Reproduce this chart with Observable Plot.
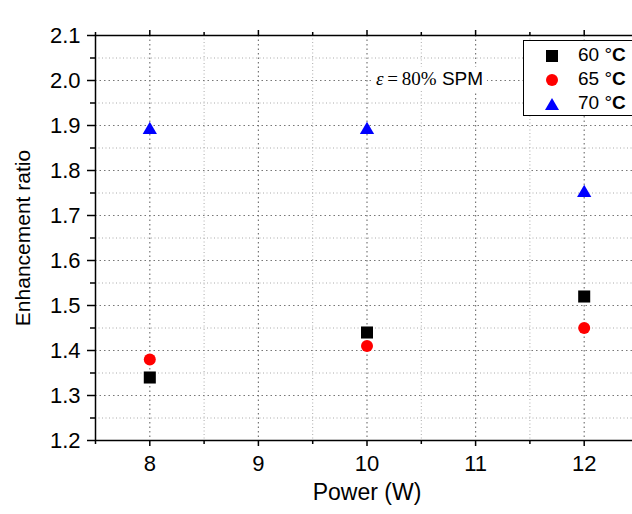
<!DOCTYPE html>
<html>
<head>
<meta charset="utf-8">
<script src="https://cdn.jsdelivr.net/npm/d3@7"></script>
<script src="https://cdn.jsdelivr.net/npm/@observablehq/plot@0.6"></script>
<style>
  html, body { margin: 0; padding: 0; background: #fff; overflow: hidden; }
  #wrap { position: relative; width: 632px; height: 514px; overflow: hidden; font-family: "Liberation Sans", Arial, sans-serif; }
  #wrap svg { max-width: none !important; display: block; }
  #legend { position: absolute; left: 523px; top: 40px; width: 130px; height: 76px; border: 1px solid #000; background: #fff; box-sizing: border-box; }
  .sym { position: absolute; }
  .lab { position: absolute; left: 54px; font-size: 19px; line-height: 24px; color: #000; white-space: nowrap; }
  #note { position: absolute; left: 372px; top: 67px; background: #fff; padding: 0 4px; font-size: 19px; line-height: 24px; white-space: nowrap; }
</style>
</head>
<body>
<div id="wrap"></div>
<script>
const powers = [8, 10, 12];
const series = ["60 °C", "65 °C", "70 °C"];
const ratio60 = [1.34, 1.44, 1.52];
const ratio65 = [1.38, 1.41, 1.45];
const ratio70 = [1.89, 1.89, 1.75];
const xTicks = [8, 9, 10, 11, 12];
const xMinor = [7.5, 8.5, 9.5, 10.5, 11.5, 12.5];
const yTicks = [1.2, 1.3, 1.4, 1.5, 1.6, 1.7, 1.8, 1.9, 2.0, 2.1];
const yMinor = [1.25, 1.35, 1.45, 1.55, 1.65, 1.75, 1.85, 1.95, 2.05];

const d60 = powers.map((p, i) => ({power: p, ratio: ratio60[i]}));
const d65 = powers.map((p, i) => ({power: p, ratio: ratio65[i]}));
const d70 = powers.map((p, i) => ({power: p, ratio: ratio70[i]}));

const font = "Liberation Sans, Arial, sans-serif";

const chart = Plot.plot({
  width: 640,
  height: 514,
  marginLeft: 95,
  marginRight: 2,
  marginTop: 35,
  marginBottom: 74,
  style: {fontFamily: font, fontSize: "22px", color: "#000", background: "#fff", overflow: "visible", maxWidth: "none"},
  x: {domain: [7.5, 12.5]},
  y: {domain: [1.2, 2.1]},
  marks: [
    Plot.gridX(xMinor, {stroke: "#aaa", strokeOpacity: 1, strokeDasharray: "1,2.5", strokeWidth: 1}),
    Plot.gridY(yMinor, {stroke: "#aaa", strokeOpacity: 1, strokeDasharray: "1,2.5", strokeWidth: 1}),
    Plot.gridX(xTicks, {stroke: "#777", strokeOpacity: 1, strokeDasharray: "1.5,3", strokeWidth: 1.2}),
    Plot.gridY(yTicks, {stroke: "#777", strokeOpacity: 1, strokeDasharray: "1.5,3", strokeWidth: 1.2}),
    Plot.axisX(xTicks, {anchor: "bottom", tickSize: 6, tickPadding: 9, fontSize: 22, label: null, strokeWidth: 1.5}),
    Plot.axisX(xMinor, {anchor: "bottom", tickSize: 4, tickFormat: () => "", label: null, strokeWidth: 1.5}),
    Plot.axisX(xTicks, {anchor: "top", tickSize: 6, tickFormat: () => "", label: null, strokeWidth: 1.5}),
    Plot.axisX(xMinor, {anchor: "top", tickSize: 4, tickFormat: () => "", label: null, strokeWidth: 1.5}),
    Plot.axisY(yTicks, {anchor: "left", tickSize: 8, tickPadding: 7, fontSize: 22, tickFormat: d3.format(".1f"), label: null, strokeWidth: 1.5}),
    Plot.axisY(yMinor, {anchor: "left", tickSize: 5, tickFormat: () => "", label: null, strokeWidth: 1.5}),
    Plot.frame({stroke: "#000", strokeWidth: 1.5}),
    Plot.dot(d70, {x: "power", y: "ratio", symbol: "triangle", r: 5.3, fill: "#0000ff", stroke: "none"}),
    Plot.dot(d65, {x: "power", y: "ratio", symbol: "circle", r: 6, fill: "#ff0000", stroke: "none"}),
    Plot.dot(d60, {x: "power", y: "ratio", symbol: "square", r: 6.8, fill: "#000000", stroke: "none"}),
    Plot.text(["Power (W)"], {frameAnchor: "bottom", dy: 52, fontSize: 23, fill: "#000", lineAnchor: "middle", textAnchor: "middle"}),
    Plot.text(["Enhancement ratio"], {frameAnchor: "left", dx: -72, rotate: -90, fontSize: 21, fill: "#000", lineAnchor: "middle", textAnchor: "middle"})
  ]
});

const wrap = document.getElementById("wrap");
wrap.appendChild(chart);

// annotation
const note = document.createElement("div");
note.id = "note";
note.innerHTML = '<span style="font-family:\'Liberation Serif\',\'Times New Roman\',serif"><i>ε</i>&thinsp;=&thinsp;80%</span> <span style="font-family:\'Liberation Sans\',Arial,sans-serif">SPM</span>';
wrap.appendChild(note);

// legend
const legend = document.createElement("div");
legend.id = "legend";
const syms = [
  '<svg class="sym" style="left:21px;top:8px" width="14" height="14"><rect x="1" y="1" width="12" height="12" fill="#000"/></svg>',
  '<svg class="sym" style="left:21px;top:32px" width="14" height="14"><circle cx="7" cy="7" r="6" fill="#ff0000"/></svg>',
  '<svg class="sym" style="left:20px;top:56px" width="16" height="14"><polygon points="8,1 15,13 1,13" fill="#0000ff"/></svg>'
];
const tops = [2, 26, 50];
series.forEach((s, i) => {
  const parts = s.split(" ");
  const deg = parts[1];
  legend.insertAdjacentHTML("beforeend", syms[i]);
  const lab = document.createElement("div");
  lab.className = "lab";
  lab.style.top = tops[i] + "px";
  lab.innerHTML = parts[0] + ' ' + deg.slice(0, 1) + '<b>' + deg.slice(1) + '</b>';
  legend.appendChild(lab);
});
wrap.appendChild(legend);
</script>
</body>
</html>
